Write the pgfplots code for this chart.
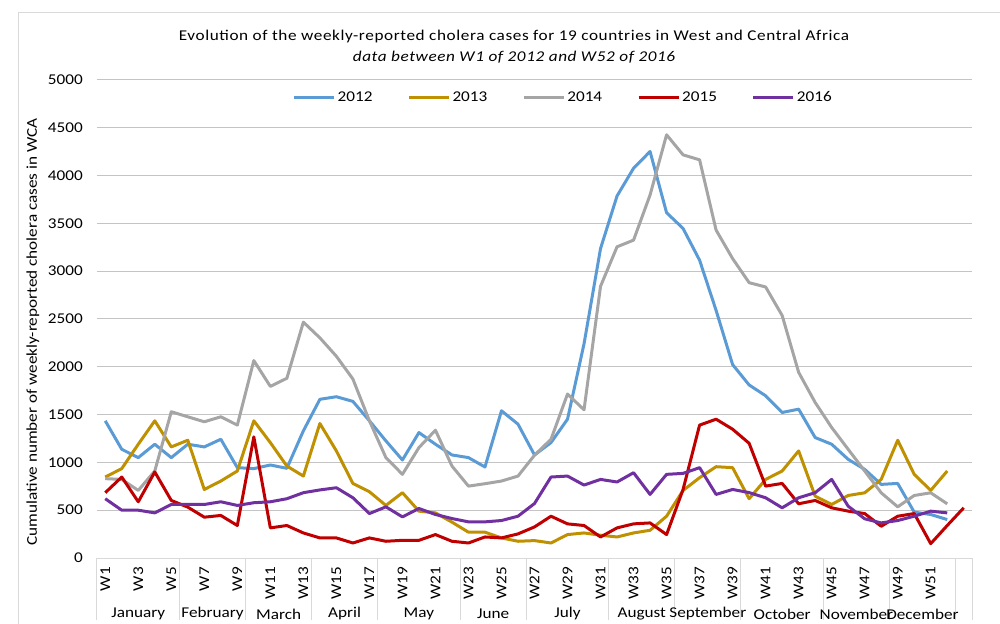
\documentclass[border=0pt]{standalone}
\usepackage{pgfplots}
\pgfplotsset{compat=1.18}
\usepackage{fontspec}
\setmainfont{Carlito}[FakeStretch=1.15]
\definecolor{c2012}{HTML}{5B9BD5}
\definecolor{c2013}{HTML}{BF9000}
\definecolor{c2014}{HTML}{A5A5A5}
\definecolor{c2015}{HTML}{C00000}
\definecolor{c2016}{HTML}{7030A0}
\definecolor{gridc}{HTML}{C4C4C4}
\definecolor{sepc}{HTML}{D9D9D9}
\begin{document}
\begin{tikzpicture}[font=\fontsize{15}{18}\selectfont]
\begin{axis}[
  scale only axis, width=875bp, height=478bp,
  xmin=0.5, xmax=53.5, ymin=0, ymax=5000,
  clip=false,
  axis line style={draw=none},
  major tick length=0pt,
  ytick={0,500,...,5000},
  ymajorgrids, grid style={gridc, line width=1bp},
  xtick={1,3,...,51},
  xticklabels={W1,W3,W5,W7,W9,W11,W13,W15,W17,W19,W21,W23,W25,W27,W29,W31,W33,W35,W37,W39,W41,W43,W45,W47,W49,W51},
  xticklabel style={rotate=90, anchor=east, inner sep=0pt},
  xticklabel shift=9bp,
  yticklabel style={inner sep=0pt, xshift=-14bp},
  /pgf/number format/assume math mode=true,
  /pgf/number format/1000 sep={},
  tick label style={font=\fontsize{15}{18}\selectfont},
  legend columns=5,
  legend style={draw=none, fill=none, at={(rel axis cs:0.220,0.9644)}, anchor=west,
    font=\fontsize{15}{18}\selectfont,
    /tikz/every even column/.append style={column sep=33bp}},
  legend image code/.code={\draw[#1, line width=3bp] (0bp,0bp) -- (40bp,0bp);},
  every axis plot/.append style={line width=3bp, line join=round, mark=none},
]
\addplot[c2012] coordinates {(1,1435)(2,1137)(3,1050)(4,1190)(5,1050)(6,1190)(7,1162)(8,1242)(9,945)(10,935)(11,973)(12,938)(13,1330)(14,1660)(15,1687)(16,1638)(17,1435)(18,1225)(19,1025)(20,1312)(21,1190)(22,1078)(23,1050)(24,952)(25,1540)(26,1400)(27,1078)(28,1207)(29,1452)(30,2240)(31,3237)(32,3787)(33,4077)(34,4252)(35,3612)(36,3447)(37,3115)(38,2590)(39,2023)(40,1810)(41,1697)(42,1522)(43,1557)(44,1260)(45,1190)(46,1032)(47,927)(48,770)(49,780)(50,480)(51,455)(52,402)};
\addlegendentry{2012}
\addplot[c2013] coordinates {(1,847)(2,935)(3,1190)(4,1435)(5,1162)(6,1232)(7,717)(8,805)(9,910)(10,1435)(11,1207)(12,962)(13,857)(14,1407)(15,1120)(16,780)(17,693)(18,550)(19,683)(20,490)(21,472)(22,375)(23,270)(24,270)(25,210)(26,175)(27,182)(28,157)(29,245)(30,262)(31,238)(32,220)(33,262)(34,290)(35,437)(36,707)(37,840)(38,955)(39,945)(40,620)(41,822)(42,910)(43,1120)(44,647)(45,560)(46,654)(47,682)(48,822)(49,1232)(50,875)(51,707)(52,910)};
\addlegendentry{2013}
\addplot[c2014] coordinates {(1,830)(2,822)(3,707)(4,910)(5,1530)(6,1477)(7,1425)(8,1477)(9,1390)(10,2065)(11,1795)(12,1880)(13,2467)(14,2303)(15,2110)(16,1872)(17,1435)(18,1050)(19,875)(20,1155)(21,1337)(22,962)(23,752)(24,777)(25,805)(26,857)(27,1075)(28,1242)(29,1715)(30,1550)(31,2842)(32,3255)(33,3325)(34,3797)(35,4427)(36,4217)(37,4165)(38,3430)(39,3132)(40,2880)(41,2835)(42,2537)(43,1942)(44,1627)(45,1365)(46,1137)(47,910)(48,682)(49,535)(50,654)(51,682)(52,567)};
\addlegendentry{2014}
\addplot[c2015] coordinates {(1,683)(2,847)(3,588)(4,900)(5,602)(6,532)(7,427)(8,445)(9,340)(10,1267)(11,315)(12,340)(13,262)(14,210)(15,210)(16,157)(17,210)(18,175)(19,185)(20,185)(21,245)(22,175)(23,157)(24,220)(25,210)(26,252)(27,325)(28,437)(29,357)(30,340)(31,220)(32,315)(33,357)(34,367)(35,245)(36,717)(37,1390)(38,1452)(39,1347)(40,1200)(41,752)(42,780)(43,567)(44,602)(45,525)(46,490)(47,465)(48,332)(49,437)(50,465)(51,150)(52,340)(53,525)};
\addlegendentry{2015}
\addplot[c2016] coordinates {(1,620)(2,500)(3,500)(4,472)(5,560)(6,560)(7,560)(8,588)(9,550)(10,578)(11,588)(12,620)(13,683)(14,712)(15,735)(16,630)(17,465)(18,535)(19,430)(20,518)(21,455)(22,413)(23,378)(24,378)(25,392)(26,437)(27,570)(28,847)(29,857)(30,763)(31,822)(32,795)(33,892)(34,665)(35,875)(36,885)(37,945)(38,665)(39,717)(40,684)(41,630)(42,525)(43,630)(44,683)(45,822)(46,542)(47,410)(48,367)(49,392)(50,437)(51,490)(52,472)};
\addlegendentry{2016}
\draw[sepc, line width=1bp] (axis cs:0.5,0) -- (axis cs:53.5,0);
\pgfplotsinvokeforeach{0.5,5.5,9.5,13.5,17.5,22.5,26.5,31.5,35.5,39.5,44.5,48.5,52.5,53.5}{
  \draw[sepc, line width=1bp] (axis cs:#1,0) -- ([yshift=-62bp]axis cs:#1,0);
}
\node[inner sep=0pt] at ([yshift=-56bp]axis cs:3,0) {January};
\node[inner sep=0pt] at ([yshift=-56bp]axis cs:7.5,0) {February};
\node[inner sep=0pt] at ([yshift=-56bp]axis cs:11.5,0) {March};
\node[inner sep=0pt] at ([yshift=-56bp]axis cs:15.5,0) {April};
\node[inner sep=0pt] at ([yshift=-56bp]axis cs:20,0) {May};
\node[inner sep=0pt] at ([yshift=-56bp]axis cs:24.5,0) {June};
\node[inner sep=0pt] at ([yshift=-56bp]axis cs:29,0) {July};
\node[inner sep=0pt] at ([yshift=-56bp]axis cs:33.5,0) {August};
\node[inner sep=0pt] at ([yshift=-56bp]axis cs:37.5,0) {September};
\node[inner sep=0pt] at ([yshift=-56bp]axis cs:42,0) {October};
\node[inner sep=0pt] at ([yshift=-56bp]axis cs:46.5,0) {November};
\node[inner sep=0pt] at ([yshift=-56bp]axis cs:50.5,0) {December};
\end{axis}
\draw[sepc, line width=1bp] (913bp,545bp) -- (-78bp,545bp) -- (-78bp,-82bp);
\node at (417bp,521bp) {\addfontfeatures{LetterSpace=4}Evolution of the weekly-reported cholera cases for 19 countries in West and Central Africa};
\node at (417bp,501bp) {\itshape\addfontfeatures{LetterSpace=4}data between W1 of 2012 and W52 of 2016};
\node[rotate=90] at (-64bp,226bp) {Cumulative number of weekly-reported cholera cases in WCA};
\pgfresetboundingbox
\path[use as bounding box] (-97bp,-66bp) rectangle (903bp,558bp);
\end{tikzpicture}
\end{document}
